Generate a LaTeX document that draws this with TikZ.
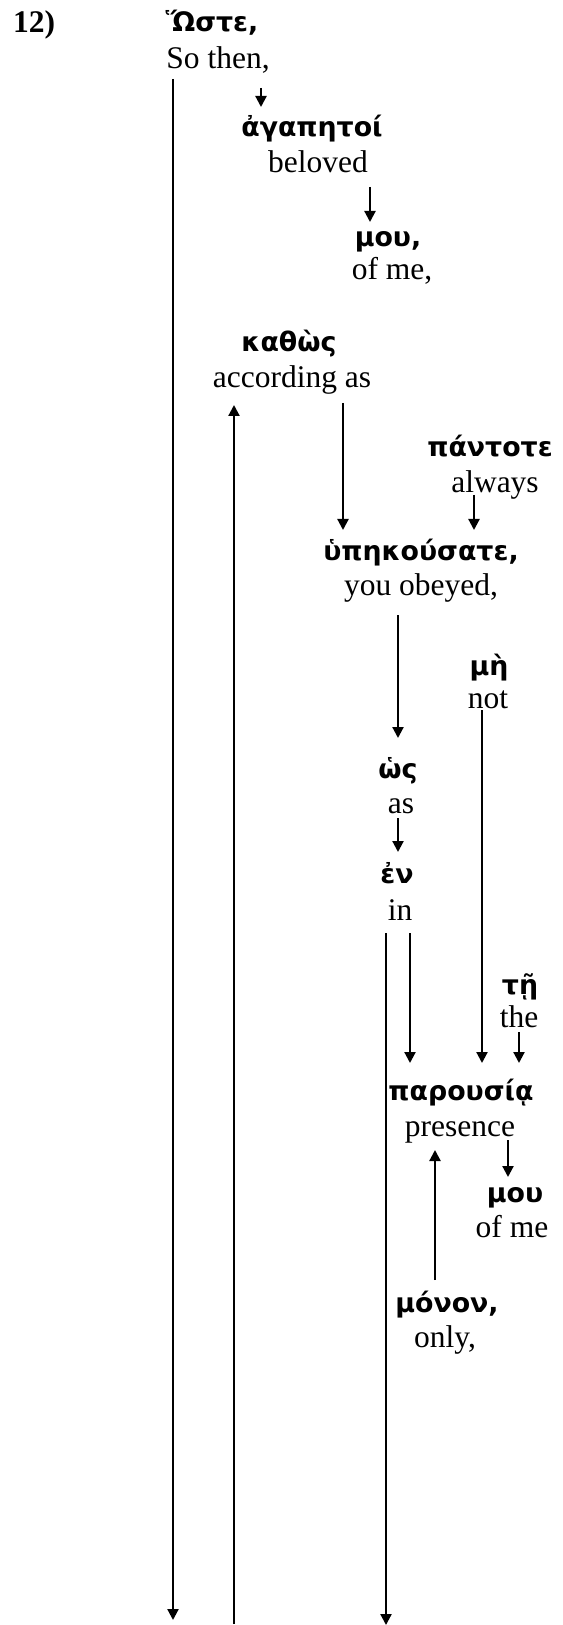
\documentclass[tikz,border=0pt]{standalone}
\usepackage{fontspec}
\setmainfont{Liberation Serif}
\newfontfamily\gkfont{DejaVu Sans}
\usetikzlibrary{arrows.meta,calc}
\begin{document}
\begin{tikzpicture}[x=0.5pt,y=-0.5pt,
  gk/.style={font={\gkfont\bfseries\fontsize{13.4pt}{15pt}\selectfont}, anchor=base, inner sep=0pt},
  en/.style={font={\fontsize{15.75pt}{18pt}\selectfont}, anchor=base, inner sep=0pt},
  numst/.style={font={\bfseries\fontsize{15.75pt}{18pt}\selectfont}, anchor=base, inner sep=0pt},
  conn/.style={line width=1.1pt},
  arr/.style={conn, -{Triangle[width=5.5pt,length=5.5pt]}},
]
\path[use as bounding box] (0,0) rectangle (562,1625);

% nodes
\node[numst] (num) at (34,33) {12)};
\node[gk] (hoste) at (212,32) {Ὥστε,};
\node[en] (sothen) at (218,69) {So then,};
\node[gk] (agap) at (312,137) {ἀγαπητοί};
\node[en] (beloved) at (318,173) {beloved};
\node[gk] (mou1) at (388,247) {μου,};
\node[en] (ofme1) at (392,280) {of me,};
\node[gk] (kathos) at (289,352) {καθὼς};
\node[en] (accas) at (292,388) {according as};
\node[gk] (pantote) at (490,457) {πάντοτε};
\node[en] (always) at (495,493) {always};
\node[gk] (hyp) at (421,560) {ὑπηκούσατε,};
\node[en] (obeyed) at (421,595) {you obeyed,};
\node[gk] (me) at (489,675) {μὴ};
\node[en] (not) at (488,708) {not};
\node[gk] (hos) at (398,778) {ὡς};
\node[en] (as) at (401,813) {as};
\node[gk] (en) at (397,883) {ἐν};
\node[en] (in) at (400,920) {in};
\node[gk] (te) at (520,994) {τῇ};
\node[en] (the) at (519,1027) {the};
\node[gk] (parousia) at (461,1100) {παρουσίᾳ};
\node[en] (presence) at (460,1136) {presence};
\node[gk] (mou2) at (515,1202) {μου};
\node[en] (ofme2) at (512,1237) {of me};
\node[gk] (monon) at (447,1312) {μόνον,};
\node[en] (only) at (445,1347) {only,};

% free ends
\coordinate (endA) at (173,1620);
\coordinate (endB) at (234,1624);
\coordinate (endC) at (386,1625);

% connectors
\draw[arr] ($(sothen.base)+(43,19)$) -- ($(agap.base)+(-51,-30)$);
\draw[arr] ($(sothen.base)+(-45,10)$) -- (endA);
\draw[arr] ($(beloved.base)+(52,14)$) -- ($(mou1.base)+(-18,-25)$);
\draw[arr] (endB) -- ($(accas.base)+(-58,17)$);
\draw[arr] ($(accas.base)+(51,15)$) -- ($(hyp.base)+(-78,-30)$);
\draw[arr] ($(always.base)+(-21,2)$) -- ($(hyp.base)+(53,-30)$);
\draw[arr] ($(obeyed.base)+(-23,20)$) -- ($(hos.base)+(0,-40)$);
\draw[arr] ($(not.base)+(-6,2)$) -- ($(parousia.base)+(21,-37)$);
\draw[arr] ($(as.base)+(-3,5)$) -- ($(en.base)+(1,-31)$);
\draw[arr] ($(in.base)+(-14,13)$) -- (endC);
\draw[arr] ($(in.base)+(10,13)$) -- ($(parousia.base)+(-51,-37)$);
\draw[arr] ($(the.base)+(0,5)$) -- ($(parousia.base)+(58,-37)$);
\draw[arr] ($(presence.base)+(48,4)$) -- ($(mou2.base)+(-7,-25)$);
\draw[arr] ($(monon.base)+(-12,-32)$) -- ($(presence.base)+(-25,14)$);
\end{tikzpicture}
\end{document}
